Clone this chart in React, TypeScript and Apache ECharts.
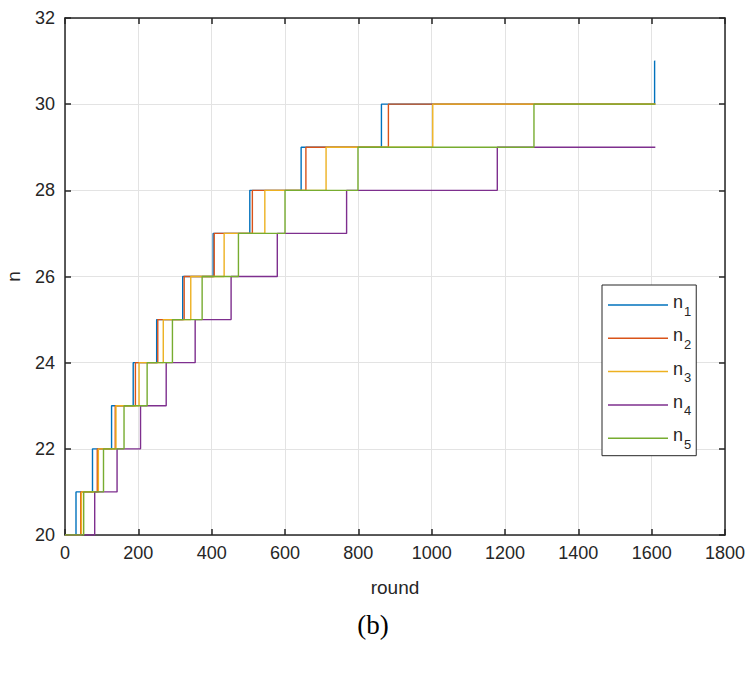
import React, { useEffect, useRef } from "react";
import * as echarts from "echarts";

const seriesNames = ["1", "2", "3", "4", "5"];
const seriesColors = ["#0072BD", "#D95319", "#EDB120", "#7E2F8E", "#77AC30"];
const startN = 20;
const endRound = 1610;
// rounds at which n increments by one, per series
const n1Steps = [30, 75, 127, 186, 250, 321, 404, 504, 644, 863, 1608];
const n2Steps = [43, 88, 137, 192, 253, 325, 407, 511, 657, 882];
const n3Steps = [45, 91, 139, 202, 268, 343, 434, 545, 712, 1003];
const n4Steps = [81, 142, 206, 276, 355, 453, 579, 768, 1179];
const n5Steps = [51, 105, 161, 224, 293, 374, 473, 600, 799, 1279];
const allSteps = [n1Steps, n2Steps, n3Steps, n4Steps, n5Steps];
const xTicks = { min: 0, max: 1800, interval: 200 };
const yTicks = { min: 20, max: 32, interval: 2 };

function buildStairs(steps: number[]): number[][] {
  const pts: number[][] = [[0, startN]];
  steps.forEach((x, i) => pts.push([x, startN + i + 1]));
  pts.push([endRound, startN + steps.length]);
  return pts;
}

export default function App() {
  const ref = useRef<HTMLDivElement>(null);
  useEffect(() => {
    if (!ref.current) return;
    const chart = echarts.init(ref.current, undefined, { renderer: "svg" });
    const font = "'Liberation Sans', Arial, Helvetica, sans-serif";
    const axisColor = "#262626";
    const baseAxis = {
      axisLine: { show: true, onZero: false, lineStyle: { color: axisColor, width: 1.5 } },
      axisTick: { show: true, inside: true, length: 6, lineStyle: { color: axisColor, width: 1.5 } },
    };
    const plain = (v: number) => String(v);
    chart.setOption({
      animation: false,
      backgroundColor: "#ffffff",
      grid: { left: 65, right: 21, top: 18, bottom: 146, containLabel: false, outerBoundsMode: "none" },
      xAxis: [
        {
          type: "value",
          ...xTicks,
          ...baseAxis,
          axisLabel: { color: axisColor, fontSize: 18, fontFamily: font, margin: 9, formatter: plain },
          splitLine: { show: true, lineStyle: { color: "#e3e3e3", width: 1 } },
          name: "round",
          nameLocation: "middle",
          nameGap: 43,
          nameTextStyle: { color: axisColor, fontSize: 19, fontFamily: font },
        },
        {
          type: "value",
          position: "top",
          ...xTicks,
          ...baseAxis,
          axisLabel: { show: false },
          splitLine: { show: false },
        },
      ],
      yAxis: [
        {
          type: "value",
          ...yTicks,
          ...baseAxis,
          axisLabel: { color: axisColor, fontSize: 18, fontFamily: font, margin: 10, formatter: plain },
          splitLine: { show: true, lineStyle: { color: "#e3e3e3", width: 1 } },
          name: "n",
          nameLocation: "middle",
          nameGap: 42,
          nameTextStyle: { color: axisColor, fontSize: 19, fontFamily: font },
        },
        {
          type: "value",
          position: "right",
          ...yTicks,
          ...baseAxis,
          axisLabel: { show: false },
          splitLine: { show: false },
        },
      ],
      legend: {
        orient: "vertical",
        left: 602,
        top: 285,
        padding: [8, 5, 5, 6],
        itemGap: 8.8,
        itemWidth: 60,
        itemHeight: 1.5,
        icon: "rect",
        borderColor: axisColor,
        borderWidth: 1,
        borderRadius: 0,
        backgroundColor: "#ffffff",
        data: seriesNames.map((s) => "n" + s),
        formatter: (name: string) => `{a|n}{b|${name.slice(1)}}`,
        textStyle: {
          color: axisColor,
          fontFamily: font,
          rich: {
            a: { fontSize: 18, fontFamily: font, color: axisColor, padding: [0, 0, 6, 0] },
            b: { fontSize: 13, fontFamily: font, color: axisColor, padding: [12, 0, 0, 1] },
          },
        },
      },
      graphic: [
        {
          type: "text",
          left: "center",
          top: 611,
          style: {
            text: "(b)",
            fontSize: 27,
            fontFamily: "'Liberation Serif', 'Times New Roman', serif",
            fill: "#000",
          },
        },
      ],
      series: allSteps.map((steps, i) => ({
        name: "n" + seriesNames[i],
        type: "line",
        step: "end",
        showSymbol: false,
        symbol: "none",
        xAxisIndex: 0,
        yAxisIndex: 0,
        z: 2 + i,
        color: seriesColors[i],
        lineStyle: { color: seriesColors[i], width: 1.4 },
        data: buildStairs(steps),
      })),
    });
    return () => chart.dispose();
  }, []);
  return (
    <div
      ref={ref}
      style={{ position: "fixed", left: 0, top: 0, width: 746, height: 681, background: "#fff" }}
    />
  );
}
